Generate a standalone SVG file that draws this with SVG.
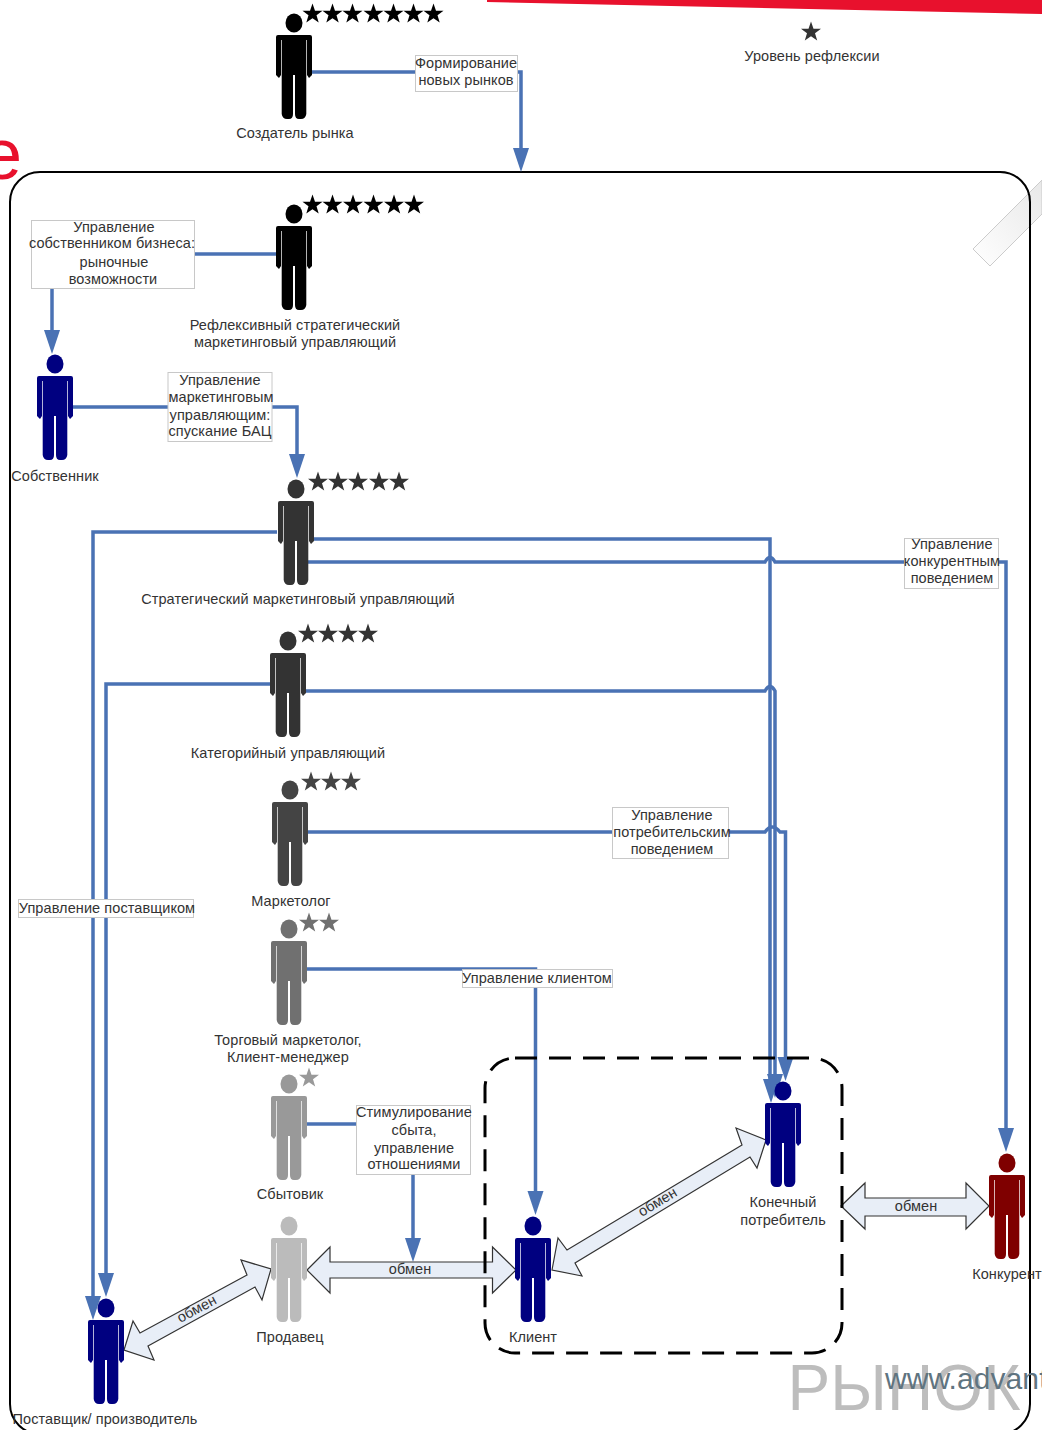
<svg xmlns="http://www.w3.org/2000/svg" width="1042" height="1430" viewBox="0 0 1042 1430">
<style>
text{font-family:"Liberation Sans",Arial,sans-serif;font-size:14.5px;fill:#333;text-anchor:middle;letter-spacing:.08px}
.c{fill:none;stroke:#4a72b4;stroke-width:3.5}
.a{fill:#4a72b4;stroke:none}
.b{fill:#fff;stroke:#c8c8c8;stroke-width:1}
.x{fill:#e8eef7;stroke:#333;stroke-width:1.2}
</style>
<defs>
<path id="p" d="M-18,14Q-18,12-16,12H16Q18,12 18,14V52L15,55L13,52V17H12.300V91Q11.500,96 7,96H5Q1,96 1,91V52H-1V91Q-1,96-5,96H-7Q-11.500,96-12.300,91V17H-13V52L-15,55L-18,52Z"/>
<g id="person"><ellipse cx="0" cy="0" rx="8.500" ry="9.500"/><use href="#p"/></g>
<polygon id="s" points="0,-10.500 2.500,-3.200 10,-3.200 4,1.300 6.200,8.500 0,4.200 -6.200,8.500 -4,1.300 -10,-3.200 -2.500,-3.200"/>
<polygon id="ah" class="a" points="-8,-24 8,-24 0,0"/>
<linearGradient id="g" x1="0" y1="1" x2="1" y2="0"><stop offset="0" stop-color="#fff"/><stop offset="1" stop-color="#e8e8e8"/></linearGradient>
</defs>
<rect width="1042" height="1430" fill="#fff"/>
<polygon points="487,0 1042,0 1042,14 487,2" fill="#e8112d"/>
<text x="2" y="179" style="font-size:72px;fill:#e8112d">e</text>
<polygon points="973,249 990,266 1042,214 1042,180" fill="url(#g)" stroke="#ccc" stroke-width="1"/>
<rect x="10" y="172" width="1020" height="1262" rx="30" fill="none" stroke="#000" stroke-width="2"/>
<text x="904" y="1410" style="font-size:64px;fill:#bdbdbd">РЫНОК</text>
<text x="885" y="1389" style="font-size:30px;fill:#5f7480;text-anchor:start">www.advant</text>

<g id="connectors">
<path class="c" d="M312,72H415M517,72H521V150"/><use href="#ah" x="521" y="172"/>
<path class="c" d="M195,254H277"/>
<path class="c" d="M52,288V335"/><use href="#ah" x="52" y="354"/>
<path class="c" d="M73,407H168M272,407H297V460"/><use href="#ah" x="297" y="478"/>
<path class="c" d="M277,532H93V1300"/><use href="#ah" x="93" y="1320"/>
<path class="c" d="M270,684H106V1275"/><use href="#ah" x="106" y="1297"/>
<path class="c" d="M313,539H770V1085"/><use href="#ah" x="771" y="1103"/>
<path class="c" d="M305,562H765Q770,553 775,562H1006V1135"/><use href="#ah" x="1006" y="1152"/>
<path class="c" d="M303,691H765Q770,682 775,691V1085"/><use href="#ah" x="775" y="1098"/>
<path class="c" d="M306,832H765Q772,822 780,832H785.500V1065"/><use href="#ah" x="785.500" y="1081"/>
<path class="c" d="M305,969H535.500V1195"/><use href="#ah" x="535.500" y="1215"/>
<path class="c" d="M305,1124H356"/>
<path class="c" d="M413,1174V1245"/><use href="#ah" x="413" y="1262"/>
<g id="label-market"><rect class="b" x="415.500" y="55.500" width="102" height="36"/><text x="466" y="68">Формирование</text><text x="466" y="85">новых рынков</text></g>
<g id="label-owner"><rect class="b" x="31.500" y="220.500" width="163" height="68"/><text x="114" y="232">Управление</text><text x="112" y="248">собственником бизнеса:</text><text x="114" y="267">рыночные</text><text x="113" y="284">возможности</text></g>
<g id="label-manager"><rect class="b" x="168" y="372.500" width="104" height="69"/><text x="220" y="385">Управление</text><text x="221" y="402">маркетинговым</text><text x="220" y="420">управляющим:</text><text x="220" y="436">спускание БАЦ</text></g>
<g id="label-competitive"><rect class="b" x="904.500" y="538.500" width="94" height="50"/><text x="952" y="549">Управление</text><text x="952" y="566">конкурентным</text><text x="952" y="583">поведением</text></g>
<g id="label-consumer"><rect class="b" x="612.500" y="807.500" width="116" height="51"/><text x="672" y="820">Управление</text><text x="672" y="837">потребительским</text><text x="672" y="854">поведением</text></g>
<g id="label-supplier"><rect class="b" x="18.500" y="899.500" width="175" height="18"/><text x="107" y="913">Управление поставщиком</text></g>
<g id="label-client"><rect class="b" x="462.500" y="969.500" width="150" height="18"/><text x="537" y="983">Управление клиентом</text></g>
<g id="label-stim"><rect class="b" x="356.500" y="1105.500" width="114" height="69"/><text x="414" y="1117">Стимулирование</text><text x="414" y="1135">сбыта,</text><text x="414" y="1153">управление</text><text x="414" y="1169">отношениями</text></g>
<polygon class="x" points="307,1270 330,1247 330,1262 492.500,1262 492.500,1247 516,1270 492.500,1293 492.500,1278 330,1278 330,1293"/>
<polygon class="x" points="124,1350 133,1321 140,1333 247,1275 241,1260 271,1269 262,1300 255,1287 148,1346 154,1360"/>
<polygon class="x" points="552,1270 558,1238 567,1250 742,1145 736,1128 766,1140 757,1168 750,1157 575,1263 582,1276"/>
<polygon class="x" points="841,1206 865,1183 865,1198 966,1198 966,1183 989,1206 966,1229 966,1216 865,1216 865,1229"/>
<text x="410" y="1274">обмен</text>
<text x="916" y="1211">обмен</text>
<text transform="translate(199,1313) rotate(-28)">обмен</text>
<text transform="translate(660,1206) rotate(-31)">обмен</text>
<rect x="485" y="1058" width="357" height="295" rx="30" fill="none" stroke="#000" stroke-width="3" stroke-dasharray="22 12"/>
</g>

<g id="n-creator" fill="#000"><use href="#person" x="294" y="23"/><use href="#s" x="312.500" y="14"/><use href="#s" x="332.500" y="14"/><use href="#s" x="352.500" y="14"/><use href="#s" x="373.500" y="14"/><use href="#s" x="393.500" y="14"/><use href="#s" x="413.500" y="14"/><use href="#s" x="433.500" y="14"/><text x="295" y="138">Создатель рынка</text></g>
<g id="n-legend" fill="#333"><use href="#s" x="811" y="32"/><text x="812" y="61">Уровень рефлексии</text></g>
<g id="n-reflexive" fill="#000"><use href="#person" x="294" y="214"/><use href="#s" x="312.500" y="205"/><use href="#s" x="332.500" y="205"/><use href="#s" x="353" y="205"/><use href="#s" x="373.500" y="205"/><use href="#s" x="394" y="205"/><use href="#s" x="414" y="205"/><text x="295" y="330">Рефлексивный стратегический</text><text x="295" y="347">маркетинговый управляющий</text></g>
<g id="n-owner" fill="#000080"><use href="#person" x="55" y="364"/><text x="55" y="481">Собственник</text></g>
<g id="n-strategic" fill="#333"><use href="#person" x="296" y="489"/><use href="#s" x="318" y="482"/><use href="#s" x="338" y="482"/><use href="#s" x="358" y="482"/><use href="#s" x="379" y="482"/><use href="#s" x="399" y="482"/><text x="298" y="604">Стратегический маркетинговый управляющий</text></g>
<g id="n-category" fill="#333"><use href="#person" x="288" y="641"/><use href="#s" x="308" y="634"/><use href="#s" x="328" y="634"/><use href="#s" x="348" y="634"/><use href="#s" x="368" y="634"/><text x="288" y="758">Категорийный управляющий</text></g>
<g id="n-marketer" fill="#444"><use href="#person" x="290" y="790"/><use href="#s" x="311" y="782"/><use href="#s" x="331" y="782"/><use href="#s" x="351" y="782"/><text x="291" y="906">Маркетолог</text></g>
<g id="n-trade" fill="#707070"><use href="#person" x="289" y="929"/><use href="#s" x="309" y="923"/><use href="#s" x="329" y="923"/><text x="288" y="1045">Торговый маркетолог,</text><text x="288" y="1062">Клиент-менеджер</text></g>
<g id="n-sales" fill="#999"><use href="#person" x="289" y="1084"/><use href="#s" x="309" y="1078"/><text x="290" y="1199">Сбытовик</text></g>
<g id="n-seller" fill="#bbb"><use href="#person" x="289" y="1226"/><text x="290" y="1342">Продавец</text></g>
<g id="n-supplier" fill="#000080"><use href="#person" x="106" y="1308"/><text x="105" y="1424">Поставщик/ производитель</text></g>
<g id="n-client" fill="#000080"><use href="#person" x="533" y="1226"/><text x="533" y="1342">Клиент</text></g>
<g id="n-end" fill="#000080"><use href="#person" x="783" y="1091"/><text x="783" y="1207">Конечный</text><text x="783" y="1225">потребитель</text></g>
<g id="n-competitor" fill="#7f0000"><use href="#person" x="1007" y="1163"/><text x="1007" y="1279">Конкурент</text></g>
</svg>
